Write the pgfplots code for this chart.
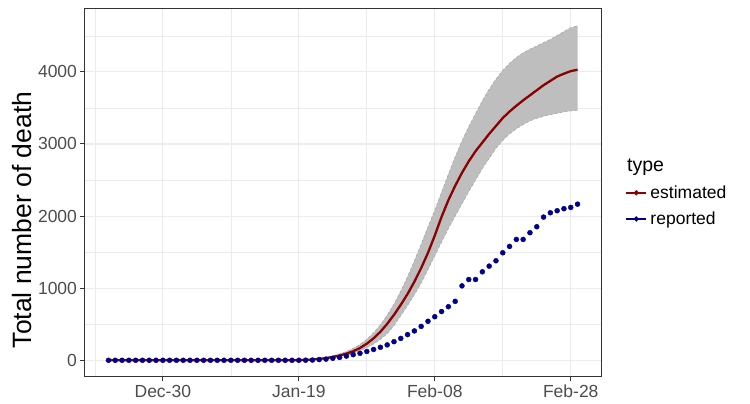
\documentclass[border=0pt]{standalone}
\usepackage{pgfplots}
\pgfplotsset{compat=1.18}
\usepgfplotslibrary{fillbetween}
\usepackage{pgfplotstable}
\usepackage{fontspec}
\setmainfont{Liberation Sans}
\definecolor{dred}{HTML}{8B0000}
\definecolor{dblue}{HTML}{00008B}
\definecolor{ribbonc}{HTML}{BEBEBE}
\definecolor{ribbonedge}{HTML}{A8A8A8}
\definecolor{gridc}{HTML}{EBEBEB}
\definecolor{tickc}{HTML}{4D4D4D}
\definecolor{framec}{HTML}{333333}

\pgfplotstableread{
day est lo hi rep
-8 0 0 0 0
-7 0 0 0 0
-6 0 0 0 0
-5 0 0 0 0
-4 0 0 0 0
-3 0 0 0 0
-2 0 0 0 0
-1 0 0 0 0
0 0 0 0 0
1 0 0 0 0
2 0 0 0 0
3 0 0 0 0
4 0 0 0 0
5 0 0 0 0
6 0 0 0 0
7 0 0 0 0
8 0 0 0 0
9 0 0 0 0
10 0 0 0 0
11 0 0 0 0
12 0 0 0 0
13 0 0 0 0
14 0 0 0 0
15 0 0 0 0
16 0 0 0 0
17 0 0 0 0
18 0 0 0 0
19 0 0 0 0
20 1 0 2 0
21 4 2 6 1
22 10 6 14 3
23 18 12 25 10
24 30 22 40 16
25 46 34 60 28
26 66 50 88 40
27 92 70 122 58
28 125 95 165 78
29 170 130 220 97
30 230 175 290 122
31 305 225 380 150
32 395 290 490 180
33 505 370 625 213
34 630 480 780 258
35 770 620 960 303
36 920 760 1160 356
37 1090 910 1380 407
38 1280 1070 1610 470
39 1490 1260 1850 541
40 1730 1450 2080 604
41 1990 1640 2330 676
42 2220 1830 2580 743
43 2420 2000 2820 817
44 2600 2170 3040 1032
45 2760 2340 3240 1120
46 2900 2500 3420 1120
47 3020 2660 3600 1227
48 3140 2800 3760 1306
49 3250 2940 3900 1380
50 3360 3050 4020 1491
51 3450 3140 4120 1579
52 3530 3210 4200 1676
53 3605 3270 4265 1676
54 3675 3320 4315 1769
55 3745 3355 4360 1852
56 3815 3385 4405 1986
57 3875 3405 4450 2046
58 3935 3425 4505 2074
59 3975 3445 4560 2102
60 4010 3458 4610 2120
61 4030 3468 4640 2165
}\data

\begin{document}
\begin{tikzpicture}
\begin{axis}[
  scale only axis, width=516pt, height=368pt,
  xmin=-11.45, xmax=64.45, ymin=-232, ymax=4872,
  xtick={0,20,40,60}, xticklabels={Dec-30,Jan-19,Feb-08,Feb-28},
  minor xtick={-10,10,30,50},
  ytick={0,1000,2000,3000,4000}, minor ytick={500,1500,2500,3500,4500},
  xtick pos=bottom, ytick pos=left,
  scaled y ticks=false,
  /pgf/number format/1000 sep={},
  /pgf/number format/assume math mode=true,
  grid=both,
  major grid style={gridc, line width=1.1pt},
  minor grid style={gridc, line width=0.6pt},
  axis line style={framec, line width=1pt},
  tick align=outside, major tick length=4.5pt, minor tick length=0pt,
  major tick style={framec, line width=1pt},
  every tick label/.append style={font=\fontsize{17.5}{20}\selectfont, text=tickc},
  ylabel={Total number of death},
  ylabel style={font=\fontsize{26.5}{30}\selectfont, at={(axis description cs:-0.122,0.4266)}, anchor=center},
  legend style={draw=none, fill=none, at={(axis description cs:1.0465,0.465)}, anchor=west,
    font=\fontsize{17.5}{20}\selectfont, inner sep=0pt, row sep=8pt,
    nodes={inner xsep=3pt, inner ysep=2pt}},
  legend cell align=left,
  legend image code/.code={\draw[mark repeat=2,mark phase=2,#1] plot coordinates {(0pt,0pt)(10pt,0pt)(20pt,0pt)};},
]
\addplot[name path=hi, draw=ribbonedge, dash pattern=on 3pt off 2pt, line width=0.6pt, forget plot] table[x=day,y=hi]{\data};
\addplot[name path=lo, draw=ribbonedge, dash pattern=on 3pt off 2pt, line width=0.6pt, forget plot] table[x=day,y=lo]{\data};
\addplot[fill=ribbonc, draw=none, forget plot] fill between[of=hi and lo];
\addplot[dred, line width=2.3pt, forget plot] table[x=day,y=est]{\data};
\addplot[only marks, mark=*, mark size=2.5pt, dblue, forget plot] table[x=day,y=rep]{\data};
\addlegendimage{dred, line width=2.3pt, mark=*, mark size=1.2pt}
\addlegendentry{estimated}
\addlegendimage{dblue, line width=2.3pt, mark=*, mark size=1.2pt}
\addlegendentry{reported}
\end{axis}
\node[anchor=base west, inner sep=0pt, font=\fontsize{19.5}{22}\selectfont] at ([xshift=542pt,yshift=205.3pt]current axis.south west) {type};
\pgfresetboundingbox
\path[use as bounding box] ([xshift=-85pt,yshift=-27pt]current axis.south west) rectangle ([xshift=149pt,yshift=9pt]current axis.north east);
\end{tikzpicture}
\end{document}
